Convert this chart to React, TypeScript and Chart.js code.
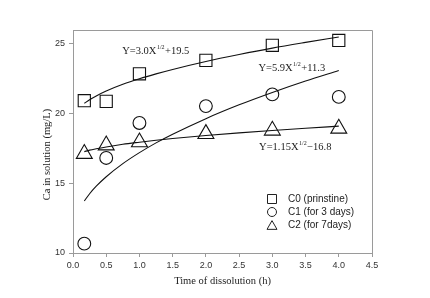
import React, { useEffect, useRef } from "react";
import { Chart, registerables } from "chart.js";

Chart.register(...registerables);

// Measured calcium concentration over dissolution time
const times = [0.17, 0.5, 1, 2, 3, 4];
const c0Values = [20.93, 20.88, 22.86, 23.82, 24.9, 25.25];
const c1Values = [10.67, 16.82, 19.33, 20.54, 21.38, 21.2];
const c2Values = [17.12, 17.73, 17.95, 18.55, 18.79, 18.93];

// Square-root fit curves, sampled along the time axis
const fitTimes = [0.17, 0.25, 0.35, 0.5, 0.75, 1, 1.25, 1.5, 2, 2.5, 3, 3.5, 4];
const c0Fit = [20.74, 21.0, 21.27, 21.62, 22.1, 22.5, 22.85, 23.17, 23.74, 24.24, 24.7, 25.11, 25.5];
const c1Fit = [13.73, 14.25, 14.79, 15.47, 16.41, 17.2, 17.9, 18.52, 19.64, 20.63, 21.52, 22.34, 23.1];
const c2Fit = [17.27, 17.38, 17.48, 17.61, 17.8, 17.95, 18.09, 18.21, 18.43, 18.62, 18.79, 18.95, 19.1];

const xTicks = [0, 0.5, 1, 1.5, 2, 2.5, 3, 3.5, 4, 4.5];
const yTicks = [10, 15, 20, 25];

const seriesNames = ["C0 (prinstine)", "C1 (for 3 days)", "C2 (for 7days)"];
const seriesMarkers = ["rect", "circle", "triangle"];
const fitEquations = [
  ["Y=3.0X", "1/2", "+19.5"],
  ["Y=5.9X", "1/2", "+11.3"],
  ["Y=1.15X", "1/2", "\u221216.8"],
];

const xTitle = "Time of dissolution (h)";
const yTitle = "Ca in solution (mg/L)";

const AXIS_GRAY = "#9a9a9a";
const SERIF = "'Liberation Serif', 'Times New Roman', serif";
const SANS = "'Liberation Sans', Arial, sans-serif";

function drawMarker(ctx: CanvasRenderingContext2D, kind: string, x: number, y: number, s: number) {
  ctx.beginPath();
  if (kind === "rect") {
    ctx.rect(x - s / 2, y - s / 2, s, s);
  } else if (kind === "circle") {
    ctx.arc(x, y, s / 2, 0, Math.PI * 2);
  } else {
    const h = s * 0.87;
    ctx.moveTo(x, y - h / 2);
    ctx.lineTo(x + s / 2, y + h / 2);
    ctx.lineTo(x - s / 2, y + h / 2);
    ctx.closePath();
  }
  ctx.stroke();
}

const decorations = {
  id: "decorations",
  afterDraw(chart: any) {
    const { ctx, chartArea, scales } = chart;
    const { left, right, top, bottom } = chartArea;
    ctx.save();

    // frame: top and right edges
    ctx.strokeStyle = AXIS_GRAY;
    ctx.lineWidth = 1;
    ctx.beginPath();
    ctx.moveTo(left, top + 0.5);
    ctx.lineTo(right + 0.5, top + 0.5);
    ctx.lineTo(right + 0.5, bottom);
    ctx.stroke();

    // fit equations, anchored at their text baseline
    const anchors = [
      [0.74, 24.28],
      [2.79, 23.03],
      [2.8, 17.36],
    ];
    ctx.fillStyle = "#222";
    ctx.textBaseline = "alphabetic";
    ctx.textAlign = "left";
    fitEquations.forEach((eq, i) => {
      let x = scales.x.getPixelForValue(anchors[i][0]);
      const y = scales.y.getPixelForValue(anchors[i][1]);
      ctx.font = `10.5px ${SERIF}`;
      ctx.fillText(eq[0], x, y);
      x += ctx.measureText(eq[0]).width + 0.5;
      ctx.font = `6px ${SERIF}`;
      ctx.fillText(eq[1], x, y - 5);
      x += ctx.measureText(eq[1]).width + 0.5;
      ctx.font = `10.5px ${SERIF}`;
      ctx.fillText(eq[2], x, y);
    });

    // legend
    const lx = right - 100;
    const ly = bottom - 54;
    ctx.strokeStyle = "#222";
    ctx.lineWidth = 1;
    ctx.font = `10px ${SANS}`;
    ctx.textBaseline = "middle";
    seriesNames.forEach((name, i) => {
      const y = ly + i * 13;
      drawMarker(ctx, seriesMarkers[i], lx, y, i === 2 ? 10 : 9);
      ctx.fillStyle = "#222";
      ctx.fillText(name, lx + 16, y);
    });

    // axis titles
    ctx.fillStyle = "#222";
    ctx.font = `10.5px ${SERIF}`;
    ctx.textAlign = "center";
    ctx.textBaseline = "middle";
    ctx.fillText(xTitle, (left + right) / 2, bottom + 28);
    ctx.save();
    ctx.translate(left - 26, (top + bottom) / 2 + 13);
    ctx.rotate(-Math.PI / 2);
    ctx.fillText(yTitle, 0, 0);
    ctx.restore();

    ctx.restore();
  },
};

export default function App() {
  const canvasRef = useRef<HTMLCanvasElement | null>(null);

  useEffect(() => {
    const canvas = canvasRef.current;
    if (!canvas) return;

    const toPoints = (xs: number[], ys: number[]) => xs.map((x, i) => ({ x, y: ys[i] }));

    const fitDataset = (ys: number[]) => ({
      type: "line" as const,
      data: toPoints(fitTimes, ys),
      borderColor: "#111",
      borderWidth: 1.1,
      pointRadius: 0,
      cubicInterpolationMode: "monotone" as const,
      fill: false,
      showLine: true,
    });

    const markerDataset = (ys: number[], style: string, radius: number, label: string) => ({
      type: "scatter" as const,
      label,
      data: toPoints(times, ys),
      pointStyle: style,
      pointRadius: radius,
      pointBorderColor: "#111",
      pointBackgroundColor: "rgba(255,255,255,0)",
      pointBorderWidth: 1.1,
      showLine: false,
    });

    const chart = new Chart(canvas, {
      type: "scatter",
      data: {
        datasets: [
          fitDataset(c0Fit),
          fitDataset(c1Fit),
          fitDataset(c2Fit),
          markerDataset(c0Values, "rect", 8.6, seriesNames[0]),
          markerDataset(c1Values, "circle", 6.4, seriesNames[1]),
          markerDataset(c2Values, "triangle", 9.2, seriesNames[2]),
        ] as any,
      },
      options: {
        responsive: false,
        animation: false,
        events: [],
        layout: { padding: { left: 0, right: 58, top: 30, bottom: 0 } },
        plugins: {
          legend: { display: false },
          tooltip: { enabled: false },
          title: { display: false },
        },
        scales: {
          x: {
            type: "linear",
            min: 0,
            max: 4.5,
            afterBuildTicks: (axis: any) => {
              axis.ticks = xTicks.map((v) => ({ value: v }));
            },
            afterFit: (axis: any) => {
              axis.height = 45;
            },
            grid: {
              drawOnChartArea: false,
              drawTicks: true,
              tickLength: 4,
              color: AXIS_GRAY,
            },
            border: { color: AXIS_GRAY, width: 1 },
            ticks: {
              autoSkip: false,
              maxRotation: 0,
              padding: 3,
              color: "#333",
              font: { family: SANS, size: 9 },
              callback: (v: any) => Number(v).toFixed(1),
            },
          },
          y: {
            type: "linear",
            min: 10,
            max: 26,
            afterBuildTicks: (axis: any) => {
              axis.ticks = yTicks.map((v) => ({ value: v }));
            },
            afterFit: (axis: any) => {
              axis.width = 73;
            },
            grid: {
              drawOnChartArea: false,
              drawTicks: true,
              tickLength: 4,
              color: AXIS_GRAY,
            },
            border: { color: AXIS_GRAY, width: 1 },
            ticks: {
              autoSkip: false,
              padding: 4,
              color: "#333",
              font: { family: SANS, size: 9 },
              callback: (v: any) => String(v),
            },
          },
        },
      },
      plugins: [decorations],
    } as any);

    return () => chart.destroy();
  }, []);

  return (
    <div style={{ position: "fixed", left: 0, top: 0, width: 430, height: 298, background: "#fff" }}>
      <canvas ref={canvasRef} width={430} height={298} style={{ width: 430, height: 298, display: "block" }} />
    </div>
  );
}
